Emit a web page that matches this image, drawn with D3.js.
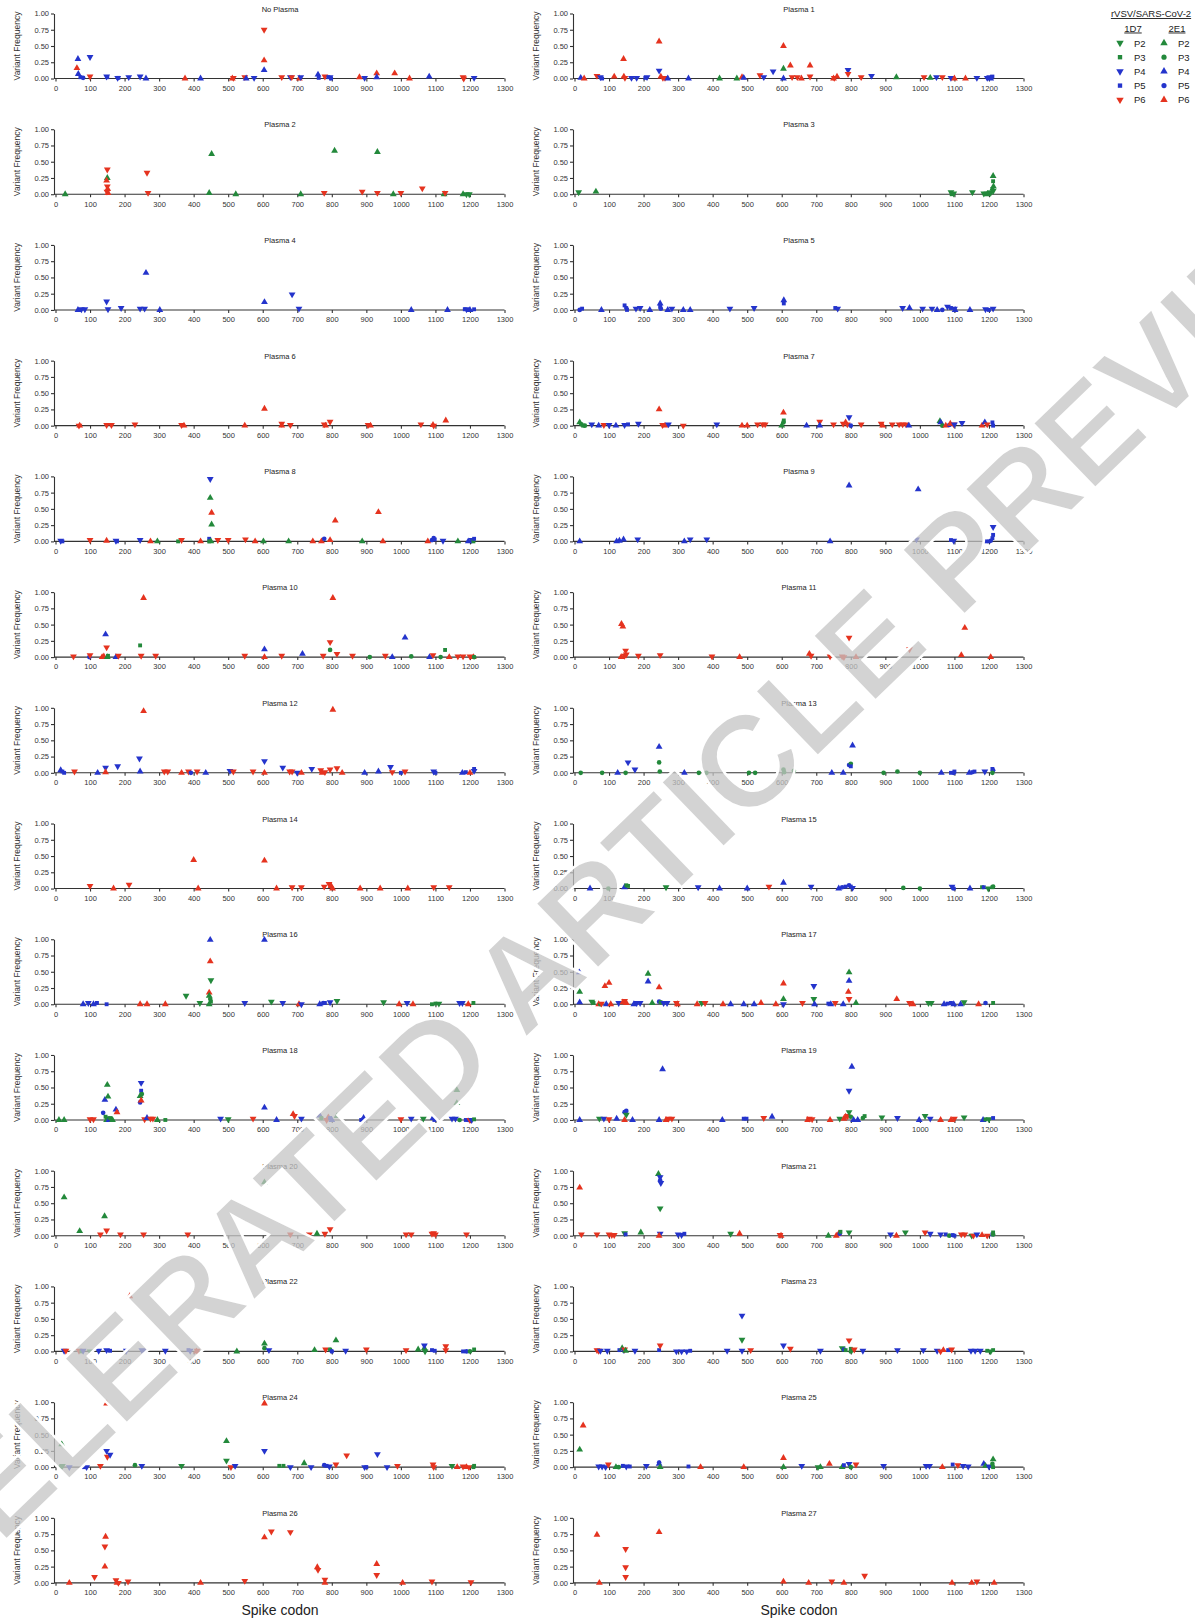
<!DOCTYPE html>
<html>
<head>
<meta charset="utf-8">
<script src="https://cdn.jsdelivr.net/npm/d3@7"></script>
<style>
  body { margin: 0; background: #fff; }
  svg { display: block; font-family: Arial, "Liberation Sans", sans-serif; }
</style>
</head>
<body>
<div id="chart"></div>
<script>
// variant frequency vs spike codon, one panel per plasma
// point = [codon, frequency, series]; series "a" = 1D7, "b" = 2E1, digit = passage

const xTicks = [0, 100, 200, 300, 400, 500, 600, 700, 800, 900, 1000, 1100, 1200, 1300];
const yTicks = [0, 0.25, 0.5, 0.75, 1];
const clones = ["1D7", "2E1"];
const passages = ["P2", "P3", "P4", "P5", "P6"];

const noPlasma = [[65,0.30,"b4"],[62,0.16,"b6"],[66,0.07,"b4"],[72,0.02,"a5"],[80,0.01,"b5"],[100,0.33,"a4"],[100,0.03,"a6"],[148,0.03,"a4"],[150,0.02,"a5"],[180,0.01,"a4"],[182,0.01,"a5"],[212,0.02,"a4"],[245,0.03,"a4"],[262,0.0,"b4"],[375,0.0,"b6"],[420,0.0,"b4"],[512,0.0,"b6"],[515,0.01,"a6"],[548,0.02,"a6"],[552,0.0,"b4"],[575,0.01,"a4"],[604,0.75,"a6"],[604,0.28,"b6"],[604,0.13,"b4"],[655,0.02,"a6"],[680,0.02,"a4"],[684,0.02,"a6"],[706,0.0,"b6"],[710,0.02,"a4"],[760,0.06,"b4"],[762,0.01,"a5"],[780,0.03,"a6"],[790,0.02,"a5"],[795,0.02,"a4"],[798,0.0,"a5"],[880,0.02,"b6"],[895,0.01,"a4"],[930,0.08,"b6"],[930,0.02,"b4"],[982,0.08,"b6"],[1025,0.0,"b6"],[1082,0.03,"b4"],[1180,0.02,"a6"],[1182,0.0,"a6"],[1212,0.01,"a4"]];

const plasma1 = [[18,0.01,"b4"],[28,0.0,"b6"],[65,0.04,"a6"],[75,0.02,"a4"],[80,0.0,"a5"],[115,0.03,"b6"],[142,0.30,"b6"],[143,0.03,"b6"],[146,0.01,"a6"],[165,0.01,"a4"],[180,0.01,"a4"],[205,0.01,"a5"],[210,0.02,"a4"],[245,0.12,"a4"],[245,0.57,"b6"],[250,0.03,"b6"],[256,0.01,"a6"],[262,0.01,"a6"],[270,0.0,"b4"],[330,0.0,"b4"],[420,0.0,"b2"],[470,0.0,"b2"],[485,0.02,"b6"],[490,0.01,"b4"],[537,0.05,"a6"],[548,0.02,"a4"],[575,0.11,"a4"],[605,0.15,"b2"],[605,0.50,"b6"],[605,0.0,"b4"],[625,0.20,"b6"],[630,0.02,"a6"],[645,0.02,"a6"],[657,0.0,"b6"],[682,0.20,"b6"],[682,0.03,"a6"],[750,0.0,"b6"],[752,0.01,"a6"],[760,0.03,"b6"],[792,0.13,"a4"],[792,0.07,"a6"],[830,0.02,"a6"],[860,0.04,"a4"],[932,0.02,"b2"],[1012,0.02,"a6"],[1030,0.01,"b2"],[1048,0.02,"a4"],[1065,0.02,"a6"],[1090,0.01,"a4"],[1100,0.0,"b6"],[1132,0.0,"b6"],[1165,0.01,"a4"],[1195,0.01,"a4"],[1202,0.02,"a4"],[1205,0.0,"b4"],[1210,0.03,"a5"]];

const plasma2 = [[28,0.0,"b2"],[150,0.38,"a6"],[150,0.25,"b2"],[148,0.21,"b6"],[150,0.12,"a6"],[151,0.08,"b6"],[149,0.04,"a6"],[152,0.02,"b6"],[265,0.33,"a6"],[268,0.02,"a6"],[445,0.02,"b2"],[452,0.62,"b2"],[522,0.0,"b2"],[710,0.0,"b2"],[778,0.02,"a6"],[808,0.67,"b2"],[888,0.04,"a6"],[932,0.65,"b2"],[932,0.02,"a6"],[978,0.0,"b2"],[1000,0.02,"a6"],[1062,0.09,"a6"],[1125,0.0,"b2"],[1128,0.02,"a6"],[1180,0.0,"b2"],[1190,0.0,"a2"],[1198,0.0,"a2"]];

const plasma3 = [[12,0.03,"a2"],[62,0.04,"b2"],[1090,0.03,"a2"],[1092,0.0,"a3"],[1098,0.01,"a2"],[1152,0.03,"a2"],[1185,0.01,"a2"],[1190,0.01,"a3"],[1195,0.0,"b2"],[1200,0.03,"a3"],[1205,0.02,"a2"],[1212,0.28,"b2"],[1212,0.20,"a3"],[1213,0.12,"b2"],[1210,0.08,"a3"],[1212,0.05,"a2"]];

const plasma4 = [[65,0.0,"b4"],[75,0.01,"a4"],[85,0.01,"a4"],[148,0.13,"a4"],[152,0.01,"a4"],[190,0.03,"a4"],[245,0.02,"a4"],[258,0.02,"a4"],[262,0.57,"b4"],[302,0.0,"b4"],[605,0.12,"b4"],[685,0.24,"a4"],[705,0.02,"a4"],[1030,0.0,"b4"],[1135,0.0,"b4"],[1185,0.01,"a5"],[1190,0.01,"a4"],[1200,0.0,"b4"],[1212,0.01,"a5"]];

const plasma5 = [[15,0.0,"b5"],[22,0.02,"a5"],[78,0.0,"b4"],[145,0.07,"a5"],[150,0.03,"b5"],[152,0.0,"a5"],[178,0.02,"a4"],[190,0.03,"a4"],[218,0.0,"b4"],[248,0.10,"b4"],[248,0.05,"a5"],[250,0.02,"b5"],[270,0.0,"b4"],[282,0.02,"a4"],[315,0.0,"b4"],[335,0.0,"b4"],[450,0.02,"a4"],[520,0.03,"a4"],[606,0.15,"b4"],[606,0.10,"a5"],[755,0.03,"a5"],[762,0.02,"a4"],[950,0.03,"a4"],[970,0.03,"b4"],[1008,0.02,"a4"],[1035,0.02,"a4"],[1050,0.0,"b4"],[1065,0.0,"b5"],[1080,0.05,"a4"],[1090,0.03,"a5"],[1100,0.02,"a4"],[1102,0.0,"b4"],[1145,0.0,"b4"],[1190,0.01,"a4"],[1200,0.0,"a5"],[1212,0.02,"a4"]];

const plasma6 = [[68,0.0,"a6"],[70,0.0,"b6"],[148,0.01,"a6"],[162,0.01,"a6"],[230,0.02,"a6"],[365,0.01,"a6"],[372,0.0,"b6"],[548,0.0,"b6"],[605,0.26,"b6"],[655,0.03,"a6"],[655,0.0,"b6"],[680,0.01,"a6"],[778,0.02,"a6"],[782,0.0,"b6"],[795,0.06,"a6"],[905,0.01,"a6"],[912,0.0,"b6"],[1058,0.02,"a6"],[1093,0.01,"b6"],[1095,0.0,"a6"],[1130,0.08,"b6"]];

const plasma7 = [[15,0.05,"b2"],[20,0.02,"b3"],[25,0.0,"a3"],[30,0.0,"b3"],[50,0.02,"a4"],[70,0.0,"b4"],[85,0.01,"a6"],[100,0.01,"a4"],[120,0.0,"b4"],[145,0.01,"a4"],[155,0.02,"a5"],[185,0.03,"a4"],[245,0.25,"b6"],[255,0.01,"a6"],[262,0.0,"b6"],[272,0.02,"a4"],[315,0.0,"a6"],[412,0.02,"a4"],[485,0.0,"b6"],[500,0.0,"b6"],[530,0.02,"a6"],[545,0.02,"a6"],[552,0.02,"a6"],[600,0.0,"b2"],[605,0.05,"b3"],[605,0.20,"b6"],[606,0.08,"a3"],[672,0.0,"b4"],[710,0.06,"a6"],[710,0.0,"b4"],[750,0.02,"a6"],[778,0.03,"a6"],[785,0.05,"b6"],[790,0.02,"a6"],[795,0.13,"a4"],[800,0.0,"b5"],[830,0.02,"a6"],[888,0.03,"a6"],[892,0.0,"b6"],[920,0.02,"a6"],[940,0.02,"a6"],[950,0.02,"a6"],[960,0.02,"a6"],[968,0.0,"b4"],[1058,0.07,"b2"],[1060,0.05,"b4"],[1065,0.0,"b3"],[1075,0.0,"b6"],[1085,0.01,"b5"],[1088,0.03,"b6"],[1098,0.02,"a6"],[1100,0.02,"a4"],[1122,0.04,"a4"],[1180,0.0,"b6"],[1188,0.05,"b4"],[1195,0.02,"a6"],[1210,0.05,"a5"],[1212,0.0,"a5"]];

const plasma8 = [[15,0.01,"a4"],[20,0.0,"a5"],[100,0.02,"a6"],[148,0.01,"b6"],[175,0.01,"a4"],[178,0.0,"a5"],[245,0.02,"a4"],[275,0.0,"b6"],[295,0.0,"b2"],[355,0.0,"a3"],[365,0.02,"a6"],[420,0.0,"b6"],[448,0.96,"a4"],[448,0.67,"b2"],[452,0.44,"b6"],[452,0.26,"b2"],[445,0.04,"a5"],[445,0.0,"a3"],[450,0.0,"b2"],[470,0.02,"a6"],[500,0.02,"a6"],[550,0.03,"a6"],[578,0.0,"b6"],[602,0.0,"b2"],[675,0.0,"b2"],[745,0.0,"b6"],[770,0.0,"b6"],[778,0.04,"b5"],[795,0.02,"b6"],[810,0.32,"b6"],[888,0.0,"b2"],[935,0.45,"b6"],[948,0.0,"b6"],[1078,0.0,"b6"],[1090,0.02,"b5"],[1095,0.05,"b5"],[1098,0.03,"a5"],[1122,0.01,"a4"],[1165,0.0,"b2"],[1195,0.0,"b4"],[1205,0.02,"a4"],[1210,0.0,"a3"],[1212,0.04,"a5"]];

const plasma9 = [[15,0.0,"b4"],[122,0.0,"b4"],[130,0.01,"b4"],[142,0.03,"b4"],[183,0.03,"a4"],[318,0.0,"b4"],[335,0.03,"a4"],[383,0.03,"a4"],[740,0.0,"b4"],[795,0.86,"b4"],[995,0.80,"b4"],[990,0.03,"a4"],[1090,0.02,"a5"],[1098,0.01,"a4"],[1190,0.0,"a5"],[1200,0.0,"a5"],[1205,0.01,"b5"],[1212,0.22,"a4"],[1212,0.10,"a5"],[1210,0.05,"a5"]];

const plasma10 = [[52,0.01,"a6"],[98,0.0,"b5"],[100,0.03,"a6"],[135,0.0,"b6"],[140,0.01,"b6"],[145,0.35,"b4"],[148,0.15,"a6"],[152,0.02,"a3"],[150,0.0,"b2"],[175,0.0,"b4"],[182,0.02,"a6"],[245,0.18,"a3"],[248,0.02,"a6"],[255,0.91,"b6"],[290,0.02,"a6"],[548,0.02,"a6"],[605,0.12,"b4"],[605,0.0,"b6"],[655,0.02,"a6"],[715,0.05,"b4"],[775,0.02,"a6"],[795,0.23,"a6"],[795,0.11,"b3"],[803,0.91,"b6"],[815,0.05,"a6"],[860,0.02,"a6"],[910,0.0,"b3"],[955,0.02,"a6"],[975,0.0,"b4"],[1012,0.30,"b4"],[1030,0.01,"b3"],[1083,0.0,"b4"],[1093,0.03,"a6"],[1115,0.0,"b3"],[1128,0.11,"a3"],[1140,0.0,"b6"],[1165,0.01,"a6"],[1180,0.01,"a6"],[1200,0.01,"a6"],[1210,0.0,"b6"],[1212,0.0,"b3"]];

const plasma11 = [[136,0.51,"b6"],[140,0.47,"b6"],[135,0.0,"b6"],[145,0.02,"a6"],[148,0.10,"a6"],[150,0.04,"a6"],[185,0.02,"a6"],[248,0.03,"a6"],[398,0.01,"a6"],[478,0.0,"b6"],[680,0.05,"b6"],[685,0.02,"a6"],[740,0.01,"a6"],[775,0.01,"a6"],[780,0.0,"a6"],[795,0.30,"a6"],[815,0.0,"b6"],[970,0.12,"a6"],[1120,0.03,"b6"],[1130,0.45,"b6"],[1205,0.0,"b6"]];

const plasma12 = [[15,0.04,"b4"],[20,0.02,"a5"],[25,0.0,"a5"],[55,0.02,"a6"],[122,0.0,"b4"],[145,0.08,"a4"],[145,0.01,"b6"],[180,0.10,"a4"],[243,0.22,"a4"],[245,0.02,"b4"],[255,0.95,"b6"],[315,0.02,"a6"],[325,0.02,"a6"],[365,0.0,"b6"],[385,0.02,"a6"],[392,0.0,"b5"],[410,0.02,"a6"],[435,0.0,"b4"],[505,0.03,"a4"],[515,0.02,"a6"],[572,0.02,"a6"],[605,0.0,"b6"],[605,0.18,"a4"],[658,0.08,"a4"],[678,0.02,"a6"],[685,0.02,"a6"],[700,0.0,"a4"],[712,0.0,"b6"],[742,0.06,"a4"],[768,0.04,"a6"],[772,0.0,"b6"],[780,0.01,"a6"],[795,0.05,"a6"],[803,0.97,"b6"],[815,0.07,"a6"],[830,0.0,"b6"],[895,0.0,"b4"],[935,0.02,"b4"],[970,0.09,"a4"],[975,0.01,"a6"],[1000,0.0,"a5"],[1012,0.02,"a6"],[1095,0.02,"a4"],[1100,0.0,"a5"],[1178,0.0,"b4"],[1188,0.01,"a5"],[1200,0.0,"b6"],[1212,0.06,"a5"],[1212,0.03,"a4"]];

const plasma13 = [[18,0.0,"b3"],[80,0.0,"b3"],[125,0.0,"b4"],[148,0.0,"b3"],[155,0.16,"a4"],[175,0.05,"a4"],[245,0.40,"b4"],[245,0.16,"b3"],[247,0.02,"b3"],[318,0.0,"b4"],[360,0.0,"b3"],[382,0.0,"b3"],[505,0.0,"b3"],[523,0.0,"b3"],[605,0.05,"b3"],[607,0.01,"b3"],[635,0.03,"b3"],[745,0.0,"b4"],[778,0.0,"b4"],[805,0.42,"b4"],[795,0.12,"b5"],[800,0.14,"b3"],[800,0.10,"a5"],[895,0.0,"b3"],[935,0.02,"b3"],[1000,0.0,"b3"],[1062,0.0,"b4"],[1090,0.0,"a5"],[1098,0.0,"b5"],[1100,0.02,"a5"],[1143,0.0,"b4"],[1152,0.01,"a5"],[1158,0.02,"a5"],[1188,0.02,"a4"],[1210,0.06,"a5"],[1212,0.04,"b5"],[1210,0.0,"b3"]];

const plasma14 = [[100,0.04,"a6"],[168,0.0,"b6"],[213,0.06,"a6"],[400,0.44,"b6"],[413,0.0,"b6"],[605,0.43,"b6"],[640,0.0,"b6"],[685,0.02,"a6"],[712,0.02,"a6"],[778,0.03,"a6"],[792,0.07,"a6"],[798,0.04,"b6"],[802,0.0,"b6"],[882,0.0,"b6"],[940,0.0,"b6"],[1020,0.0,"b6"],[1095,0.02,"a6"],[1140,0.02,"a6"]];

const plasma15 = [[45,0.0,"b4"],[98,0.0,"b3"],[145,0.02,"b4"],[150,0.05,"a3"],[155,0.04,"a3"],[265,0.02,"a2"],[358,0.02,"a4"],[420,0.0,"b4"],[500,0.0,"b4"],[563,0.03,"a6"],[605,0.09,"b4"],[685,0.03,"a4"],[765,0.0,"b4"],[775,0.02,"b5"],[785,0.03,"a5"],[795,0.05,"b5"],[800,0.03,"a5"],[805,0.01,"a4"],[952,0.01,"b3"],[1000,0.0,"b3"],[1093,0.03,"a4"],[1098,0.0,"b5"],[1145,0.0,"b4"],[1180,0.02,"a3"],[1185,0.02,"a5"],[1198,0.0,"a2"],[1210,0.02,"a3"],[1212,0.03,"b3"]];

const plasma16 = [[80,0.0,"b4"],[95,0.02,"a4"],[110,0.0,"b4"],[120,0.02,"a5"],[148,0.0,"a5"],[245,0.0,"b6"],[265,0.0,"b6"],[318,0.0,"b6"],[378,0.13,"a2"],[418,0.02,"a2"],[448,0.99,"b4"],[448,0.66,"b6"],[450,0.37,"a2"],[445,0.18,"b6"],[445,0.13,"b2"],[448,0.08,"b3"],[450,0.04,"a3"],[445,0.0,"b2"],[548,0.02,"a4"],[605,0.99,"b4"],[625,0.04,"a2"],[658,0.02,"a4"],[705,0.0,"b6"],[712,0.0,"a4"],[765,0.0,"b4"],[775,0.02,"b5"],[780,0.02,"a5"],[795,0.03,"a4"],[815,0.05,"a2"],[950,0.03,"a2"],[995,0.0,"b6"],[1018,0.02,"a4"],[1035,0.0,"b6"],[1090,0.0,"a3"],[1100,0.01,"a3"],[1110,0.01,"a2"],[1170,0.02,"a4"],[1178,0.02,"a4"],[1195,0.0,"b6"],[1210,0.02,"a3"]];

const plasma17 = [[14,0.49,"b4"],[15,0.19,"b2"],[15,0.03,"b4"],[50,0.04,"a2"],[55,0.02,"a3"],[70,0.0,"b6"],[75,0.0,"b3"],[78,0.01,"a6"],[88,0.28,"b6"],[100,0.33,"b6"],[92,0.0,"b4"],[105,0.0,"b6"],[128,0.02,"a4"],[140,0.03,"b6"],[145,0.05,"a6"],[150,0.02,"b6"],[172,0.0,"b4"],[180,0.02,"a4"],[190,0.02,"a4"],[213,0.47,"b2"],[213,0.35,"b4"],[225,0.02,"b2"],[245,0.26,"b6"],[245,0.04,"b5"],[250,0.03,"b3"],[258,0.02,"a4"],[268,0.02,"a4"],[295,0.02,"a6"],[298,0.0,"b6"],[355,0.0,"b6"],[368,0.02,"a2"],[378,0.02,"a6"],[430,0.0,"b6"],[452,0.0,"b4"],[490,0.0,"b4"],[520,0.0,"b4"],[540,0.02,"b6"],[583,0.0,"b6"],[605,0.32,"b6"],[605,0.08,"b2"],[605,0.0,"a4"],[660,0.02,"a6"],[693,0.28,"a4"],[693,0.08,"a2"],[695,0.0,"b4"],[735,0.01,"a5"],[742,0.0,"b4"],[755,0.02,"a6"],[778,0.0,"b4"],[795,0.49,"b2"],[795,0.36,"b4"],[793,0.19,"b6"],[795,0.08,"a6"],[815,0.02,"b2"],[933,0.08,"b6"],[970,0.02,"a6"],[980,0.0,"b6"],[1025,0.02,"a2"],[1033,0.02,"a2"],[1070,0.0,"b4"],[1080,0.01,"a5"],[1090,0.02,"a5"],[1098,0.0,"b4"],[1118,0.0,"b4"],[1128,0.03,"a2"],[1170,0.0,"b6"],[1190,0.02,"b5"],[1212,0.02,"a3"]];

const plasma18 = [[10,0.0,"b2"],[25,0.0,"b2"],[100,0.01,"a6"],[110,0.01,"a6"],[138,0.11,"b5"],[143,0.31,"b4"],[150,0.54,"b2"],[152,0.36,"b2"],[145,0.05,"a3"],[150,0.02,"b3"],[148,0.0,"b2"],[155,0.0,"b4"],[158,0.03,"a3"],[165,0.0,"b2"],[175,0.16,"b4"],[178,0.12,"b6"],[248,0.57,"a4"],[248,0.45,"a5"],[245,0.37,"b2"],[250,0.40,"b3"],[245,0.27,"b5"],[248,0.30,"b6"],[258,0.01,"a6"],[265,0.03,"b4"],[275,0.02,"a6"],[282,0.02,"a6"],[295,0.0,"b2"],[318,0.0,"a3"],[478,0.02,"a4"],[500,0.01,"a2"],[572,0.02,"a6"],[605,0.19,"b4"],[640,0.0,"b4"],[688,0.09,"b6"],[692,0.06,"a6"],[712,0.02,"a4"],[765,0.07,"b4"],[770,0.03,"b3"],[785,0.0,"a6"],[790,0.04,"b6"],[795,0.03,"a5"],[800,0.0,"b4"],[815,0.06,"b2"],[885,0.0,"a5"],[892,0.03,"b4"],[895,0.01,"a4"],[1000,0.01,"a6"],[1030,0.02,"a4"],[1065,0.02,"a2"],[1093,0.03,"b4"],[1097,0.0,"a5"],[1148,0.02,"a4"],[1158,0.02,"a4"],[1162,0.46,"b2"],[1162,0.26,"b2"],[1170,0.0,"b3"],[1188,0.0,"a5"],[1195,0.0,"b5"],[1200,0.0,"a6"],[1205,0.0,"a4"],[1212,0.01,"a3"]];

const plasma19 = [[15,0.0,"b4"],[72,0.02,"a2"],[85,0.02,"a4"],[100,0.01,"a6"],[122,0.02,"b4"],[145,0.12,"b5"],[150,0.14,"b5"],[150,0.08,"a2"],[145,0.0,"b6"],[168,0.0,"b4"],[245,0.0,"b4"],[255,0.78,"b4"],[265,0.0,"b6"],[272,0.02,"a6"],[282,0.02,"a6"],[428,0.0,"b4"],[490,0.02,"a5"],[498,0.02,"a5"],[548,0.03,"a6"],[572,0.05,"b4"],[675,0.0,"b6"],[680,0.02,"a6"],[688,0.01,"a6"],[740,0.0,"b6"],[768,0.02,"a2"],[780,0.02,"b6"],[785,0.05,"b6"],[790,0.06,"a6"],[795,0.12,"a2"],[795,0.45,"a4"],[803,0.82,"b4"],[800,0.05,"b3"],[808,0.0,"b4"],[820,0.0,"b4"],[835,0.03,"b3"],[840,0.06,"a3"],[890,0.04,"a2"],[935,0.03,"a4"],[998,0.0,"b4"],[1015,0.06,"a2"],[1030,0.02,"a4"],[1060,0.0,"b6"],[1090,0.0,"b6"],[1100,0.02,"a6"],[1128,0.04,"a2"],[1183,0.0,"b4"],[1190,0.01,"a3"],[1200,0.01,"a2"],[1212,0.03,"a5"]];

const plasma20 = [[25,0.59,"b2"],[70,0.07,"b2"],[130,0.02,"a6"],[142,0.30,"b2"],[148,0.08,"a6"],[188,0.02,"a6"],[255,0.02,"a6"],[383,0.02,"a6"],[605,0.82,"b2"],[680,0.02,"a6"],[735,0.02,"a6"],[757,0.03,"b2"],[780,0.03,"a6"],[795,0.10,"a6"],[1015,0.02,"a6"],[1030,0.02,"a6"],[1090,0.03,"a6"],[1095,0.04,"a6"],[1100,0.02,"a6"],[1190,0.02,"a6"]];

const plasma21 = [[15,0.74,"b6"],[20,0.02,"a6"],[65,0.02,"a6"],[100,0.02,"a6"],[108,0.01,"a6"],[115,0.01,"a6"],[145,0.04,"a2"],[148,0.02,"a5"],[192,0.05,"b2"],[243,0.95,"b2"],[248,0.90,"a4"],[248,0.85,"b5"],[250,0.81,"a4"],[248,0.42,"a2"],[248,0.03,"a4"],[245,0.0,"b6"],[300,0.02,"a4"],[310,0.01,"a4"],[318,0.03,"a5"],[452,0.03,"a2"],[478,0.03,"b6"],[595,0.01,"a6"],[598,0.0,"b6"],[735,0.0,"b2"],[758,0.0,"b6"],[765,0.03,"b6"],[768,0.03,"b5"],[770,0.06,"a3"],[795,0.05,"a2"],[915,0.02,"a4"],[932,0.0,"b6"],[958,0.05,"a2"],[1015,0.05,"a6"],[1030,0.03,"a4"],[1060,0.02,"a4"],[1075,0.02,"a5"],[1085,0.0,"b3"],[1095,0.01,"a5"],[1100,0.0,"a5"],[1120,0.02,"a6"],[1130,0.02,"a6"],[1150,0.0,"a2"],[1155,0.0,"a6"],[1165,0.02,"a4"],[1180,0.01,"b6"],[1195,0.0,"a6"],[1210,0.02,"a5"],[1212,0.05,"a3"],[1212,0.02,"b3"]];

const plasma22 = [[25,0.01,"a4"],[30,0.01,"a6"],[68,0.01,"a6"],[75,0.0,"a3"],[80,0.01,"a4"],[100,0.0,"a2"],[125,0.01,"a4"],[148,0.02,"a4"],[158,0.01,"a5"],[205,0.01,"a4"],[215,0.85,"b6"],[250,0.02,"a4"],[258,0.01,"a5"],[318,0.01,"a4"],[385,0.02,"a5"],[390,0.01,"a4"],[408,0.0,"b6"],[410,0.01,"a6"],[525,0.0,"b2"],[605,0.12,"b2"],[605,0.05,"b3"],[618,0.02,"a4"],[750,0.02,"b2"],[782,0.03,"a6"],[795,0.03,"b3"],[800,0.0,"b5"],[812,0.17,"b2"],[840,0.01,"a4"],[900,0.03,"a6"],[1015,0.02,"a6"],[1050,0.03,"b2"],[1068,0.05,"b2"],[1068,0.09,"a4"],[1070,0.0,"a2"],[1090,0.02,"a5"],[1098,0.01,"a5"],[1130,0.08,"a6"],[1130,0.02,"a6"],[1180,0.0,"a5"],[1190,0.0,"b5"],[1200,0.0,"b3"],[1212,0.03,"a3"]];

const plasma23 = [[65,0.02,"a6"],[70,0.01,"a6"],[75,0.01,"a4"],[95,0.01,"a4"],[130,0.02,"a5"],[138,0.05,"b2"],[143,0.02,"a4"],[145,0.03,"a6"],[148,0.01,"b2"],[175,0.01,"a4"],[245,0.02,"a5"],[248,0.09,"a6"],[295,0.0,"a4"],[310,0.0,"a4"],[325,0.0,"a4"],[335,0.01,"a5"],[442,0.01,"a4"],[485,0.55,"a4"],[485,0.18,"a2"],[485,0.01,"a4"],[510,0.02,"a6"],[605,0.09,"a4"],[625,0.04,"a6"],[712,0.01,"a4"],[775,0.05,"a2"],[780,0.03,"a5"],[785,0.02,"a3"],[795,0.17,"a6"],[800,0.0,"b3"],[800,0.04,"a3"],[810,0.03,"a6"],[835,0.01,"a4"],[935,0.02,"a4"],[1010,0.02,"a4"],[1050,0.01,"a4"],[1060,0.0,"a6"],[1068,0.02,"b6"],[1082,0.02,"a5"],[1092,0.03,"a6"],[1148,0.01,"a4"],[1160,0.01,"a4"],[1175,0.01,"a4"],[1195,0.01,"a3"],[1205,0.0,"a2"],[1212,0.02,"a3"]];

const plasma24 = [[18,0.35,"b2"],[15,0.0,"b3"],[20,0.02,"a2"],[40,0.0,"a4"],[82,0.0,"a5"],[90,0.0,"a4"],[130,0.02,"a6"],[148,0.98,"b6"],[148,0.25,"a4"],[150,0.16,"a6"],[158,0.19,"a4"],[230,0.03,"b3"],[250,0.02,"a4"],[365,0.02,"a2"],[495,0.40,"b2"],[495,0.10,"a2"],[508,0.0,"a6"],[520,0.02,"a4"],[605,0.98,"b6"],[605,0.25,"a4"],[648,0.02,"a3"],[660,0.02,"a3"],[680,0.0,"a4"],[720,0.06,"b2"],[740,0.0,"a4"],[778,0.03,"b5"],[785,0.02,"a5"],[793,0.01,"a4"],[812,0.04,"a6"],[843,0.18,"a6"],[895,0.0,"a4"],[900,0.0,"a5"],[932,0.20,"a4"],[960,0.0,"a4"],[990,0.02,"a6"],[1093,0.04,"a6"],[1095,0.0,"a6"],[1148,0.02,"a2"],[1163,0.0,"b6"],[1180,0.01,"a6"],[1190,0.0,"b6"],[1197,0.0,"a6"],[1210,0.0,"a3"],[1212,0.02,"a3"]];

const plasma25 = [[15,0.27,"b2"],[25,0.64,"b6"],[70,0.01,"a4"],[80,0.01,"a4"],[90,0.0,"a4"],[98,0.04,"a6"],[120,0.0,"b2"],[128,0.0,"b3"],[140,0.02,"a5"],[150,0.01,"a4"],[160,0.01,"a5"],[208,0.02,"a4"],[245,0.07,"b5"],[245,0.05,"b4"],[248,0.0,"b2"],[330,0.01,"a5"],[365,0.0,"b6"],[490,0.0,"b6"],[605,0.14,"b6"],[605,0.0,"b2"],[658,0.02,"a4"],[705,0.0,"a2"],[712,0.0,"b2"],[738,0.05,"b6"],[775,0.0,"b2"],[780,0.03,"a5"],[795,0.05,"a4"],[800,0.0,"b3"],[815,0.04,"a6"],[895,0.02,"a4"],[1018,0.02,"a4"],[1028,0.02,"a4"],[1065,0.0,"b6"],[1095,0.04,"a5"],[1110,0.03,"a6"],[1125,0.02,"a4"],[1140,0.01,"a4"],[1185,0.05,"b4"],[1190,0.02,"b2"],[1200,0.01,"a4"],[1212,0.12,"b2"],[1210,0.05,"b3"],[1212,0.0,"a3"]];

const plasma26 = [[40,0.0,"b6"],[113,0.09,"a6"],[143,0.25,"b6"],[143,0.56,"a6"],[145,0.71,"b6"],[175,0.04,"a6"],[178,0.0,"b6"],[182,0.0,"a6"],[210,0.02,"a6"],[420,0.0,"b6"],[548,0.03,"a6"],[605,0.70,"b6"],[625,0.79,"a6"],[680,0.78,"a6"],[758,0.24,"b6"],[760,0.20,"a6"],[780,0.05,"a6"],[780,0.0,"b6"],[930,0.29,"b6"],[930,0.12,"a6"],[1005,0.0,"b6"],[1090,0.02,"a6"],[1203,0.01,"a6"]];

const plasma27 = [[65,0.74,"b6"],[72,0.0,"b6"],[148,0.52,"a6"],[148,0.24,"a6"],[148,0.09,"a6"],[245,0.78,"b6"],[605,0.02,"b6"],[678,0.0,"b6"],[745,0.02,"a6"],[780,0.0,"b6"],[840,0.11,"a6"],[1093,0.0,"b6"],[1150,0.0,"b6"],[1165,0.02,"a6"],[1215,0.0,"b6"]];

// reading order: left column = No Plasma, 2, 4 ...; right column = 1, 3, 5 ...
const panels = [
  ["No Plasma", noPlasma], ["Plasma 1", plasma1], ["Plasma 2", plasma2], ["Plasma 3", plasma3],
  ["Plasma 4", plasma4], ["Plasma 5", plasma5], ["Plasma 6", plasma6], ["Plasma 7", plasma7],
  ["Plasma 8", plasma8], ["Plasma 9", plasma9], ["Plasma 10", plasma10], ["Plasma 11", plasma11],
  ["Plasma 12", plasma12], ["Plasma 13", plasma13], ["Plasma 14", plasma14], ["Plasma 15", plasma15],
  ["Plasma 16", plasma16], ["Plasma 17", plasma17], ["Plasma 18", plasma18], ["Plasma 19", plasma19],
  ["Plasma 20", plasma20], ["Plasma 21", plasma21], ["Plasma 22", plasma22], ["Plasma 23", plasma23],
  ["Plasma 24", plasma24], ["Plasma 25", plasma25], ["Plasma 26", plasma26], ["Plasma 27", plasma27]
];

// layout
const W = 1195, H = 1620;
const colX = [55.5, 574.5], plotW = 449, plotH = 65;
const firstZero = 78.5, rowGap = 115.72;
const axisColor = "#333";
const fontFam = "Arial, 'Liberation Sans', sans-serif";

// marker styles by passage / clone
const colorOf = {"2": "#23893b", "3": "#23893b", "4": "#2434cc", "5": "#2434cc", "6": "#e5331f"};
function shapeOf(code) {
  const p = code[1];
  if (p === "3" || p === "5") return code[0] === "a" ? d3.symbolSquare : d3.symbolCircle;
  return d3.symbolTriangle;
}
function sizeOf(code) {
  const p = code[1];
  if (p === "3" || p === "5") return code[0] === "a" ? 15 : 17;
  return 20;
}
function isDown(code) { return code[0] === "a" && shapeOf(code) === d3.symbolTriangle; }

const svg = d3.select("#chart")
  .append("svg")
    .attr("width", W)
    .attr("height", H)
    .style("background", "#fff");

panels.forEach(function(p, i) {
  const title = p[0], pts = p[1];
  const col = i % 2, row = Math.floor(i / 2);
  const x0 = colX[col], zero = firstZero + row * rowGap;

  const x = d3.scaleLinear().domain([0, 1300]).range([x0, x0 + plotW]);
  const y = d3.scaleLinear().domain([0, 1]).range([zero, zero - plotH]);

  const g = svg.append("g");

  // X axis
  const gx = g.append("g")
    .attr("transform", `translate(0,${zero})`)
    .call(d3.axisBottom(x).tickValues(xTicks).tickFormat(d3.format("d"))
      .tickSize(3).tickSizeOuter(0).tickPadding(4));
  gx.select(".domain").attr("d", `M${x0 - 1.5},0H${x0 + plotW}`);

  // Y axis
  const gy = g.append("g")
    .attr("transform", `translate(${x0 - 1.5},0)`)
    .call(d3.axisLeft(y).tickValues(yTicks).tickFormat(d3.format(".2f"))
      .tickSize(3).tickSizeOuter(0).tickPadding(2));

  [gx, gy].forEach(function(a) {
    a.attr("font-family", fontFam).attr("font-size", 7.5);
    a.selectAll("path, line").attr("stroke", axisColor).attr("stroke-width", 1.1);
    a.selectAll("text").attr("fill", "#333");
  });

  // panel title
  g.append("text")
    .attr("x", x0 + plotW / 2)
    .attr("y", zero - 67)
    .attr("text-anchor", "middle")
    .attr("font-size", 7.5)
    .attr("fill", "#222")
    .text(title);

  // y label
  g.append("text")
    .attr("transform", `translate(${x0 - 38},${zero - plotH / 2}) rotate(-90)`)
    .attr("text-anchor", "middle")
    .attr("dy", "0.35em")
    .attr("font-size", 8.5)
    .attr("fill", "#333")
    .text("Variant Frequency");

  // points
  g.selectAll("path.pt")
    .data(pts)
    .join("path")
      .attr("class", "pt")
      .attr("transform", d => `translate(${x(d[0])},${y(d[1])})` + (isDown(d[2]) ? " rotate(180)" : ""))
      .attr("d", d => d3.symbol(shapeOf(d[2]), sizeOf(d[2]))())
      .attr("fill", d => colorOf[d[2][1]]);

  // x label under the bottom row
  if (row === 13) {
    g.append("text")
      .attr("x", x0 + plotW / 2)
      .attr("y", zero + 32)
      .attr("text-anchor", "middle")
      .attr("font-size", 14)
      .attr("fill", "#222")
      .text("Spike codon");
  }
});

// legend
const lg = svg.append("g").attr("font-family", fontFam).attr("fill", "#222");
lg.append("text")
  .attr("x", 1151).attr("y", 17)
  .attr("text-anchor", "middle")
  .attr("font-size", 9.5)
  .attr("text-decoration", "underline")
  .text("rVSV/SARS-CoV-2");

const legX = [1120, 1164];
clones.forEach(function(c, ci) {
  lg.append("text")
    .attr("x", legX[ci] + 13).attr("y", 31.5)
    .attr("text-anchor", "middle")
    .attr("font-size", 9.5)
    .attr("text-decoration", "underline")
    .text(c);
  passages.forEach(function(pname, pi) {
    const code = (ci === 0 ? "a" : "b") + pname[1];
    const cy = 43 + pi * 14.2;
    lg.append("path")
      .attr("transform", `translate(${legX[ci]},${cy})` + (isDown(code) ? " rotate(180)" : ""))
      .attr("d", d3.symbol(shapeOf(code), sizeOf(code) + 4)())
      .attr("fill", colorOf[code[1]]);
    lg.append("text")
      .attr("x", legX[ci] + 14).attr("y", cy + 3.5)
      .attr("font-size", 9.5)
      .text(pname);
  });
});

// diagonal watermark
svg.append("text")
  .attr("transform", "translate(-204,1743) rotate(-44)")
  .attr("font-family", fontFam)
  .attr("font-weight", "bold")
  .attr("font-size", 131)
  .attr("fill", "#c4c4c4")
  .attr("fill-opacity", 0.75)
  .attr("stroke", "#fff")
  .attr("stroke-width", 2.5)
  .text("ACCELERATED ARTICLE PREVIEW");
</script>
</body>
</html>
